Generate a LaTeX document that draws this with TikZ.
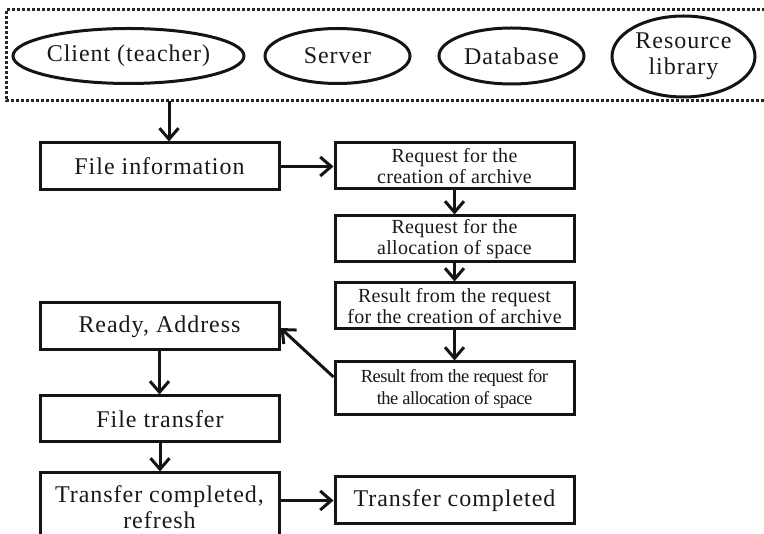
\documentclass[tikz,border=0pt]{standalone}
\usepackage{fontspec}
\setmainfont{Liberation Serif}
\newfontfamily\bigfam[LetterSpace=4]{Liberation Serif}
\newfontfamily\midfam[LetterSpace=1.5]{Liberation Serif}
\newfontfamily\tightfam[LetterSpace=-3]{Liberation Serif}
\usetikzlibrary{shapes.geometric,arrows.meta}

\tikzset{
  stroke/.style={line width=3pt, draw=black!92},
  bigtext/.style={font=\bigfam\fontsize{24}{26}\selectfont, text=black!90},
  midtext/.style={font=\midfam\fontsize{20}{21}\selectfont, text=black!90},
  tighttext/.style={font=\tightfam\fontsize{18.5}{22}\selectfont, text=black!90},
  actor/.style={stroke, ellipse, inner sep=0pt, align=center, bigtext},
  stepbox/.style={stroke, rectangle, inner sep=0pt, minimum width=239pt, align=center},
  flow/.style={stroke, -{Straight Barb[length=11pt,width=19pt,line width=3pt]}}
}

\begin{document}
\begin{tikzpicture}[x=1pt,y=-1pt]
  \useasboundingbox (0,0) rectangle (764,534);
  \clip (0,0) rectangle (764,534);

  % participants, inside a dotted frame open to the right
  \draw[line width=3pt, dash pattern=on 2.6pt off 2.4pt, draw=black!85]
    (770,10) -- (6,10) -- (6,101) -- (770,101);
  \coordinate (frameb) at (169,101);

  \node[actor, minimum width=227pt, minimum height=55pt] (client)   at (128.5,56)  {Client (teacher)};
  \node[actor, minimum width=145pt, minimum height=55pt] (server)   at (337.5,56)  {Server};
  \node[actor, minimum width=145pt, minimum height=56pt] (database) at (511.5,56)  {Database};
  \node[actor, minimum width=143pt, minimum height=81pt] (library)  at (683.5,56.5){Resource\\library};

  % left column
  \node[stepbox, bigtext, minimum height=47pt] (fileinfo) at (159.5,166.5) {File information};
  \node[stepbox, bigtext, minimum height=47pt] (ready)    at (159.5,326.5) {Ready, Address};
  \node[stepbox, bigtext, minimum height=46pt] (ftrans)   at (160,419)     {File transfer};
  \node[stepbox, bigtext, minimum height=68pt] (tcr)      at (159.5,507)   {Transfer completed,\\refresh};

  % right column
  \node[stepbox, midtext, minimum height=46pt] (req1) at (454.5,166) {Request for the\\creation of archive};
  \node[stepbox, midtext, minimum height=46pt] (req2) at (454.5,239) {Request for the\\allocation of space};
  \node[stepbox, midtext, minimum height=46pt] (res1) at (454.5,306) {Result from the request\\for the creation of archive};
  \node[stepbox, tighttext, minimum height=53pt] (res2) at (454.5,388.5) {Result from the request for\\the allocation of space};
  \node[stepbox, bigtext, minimum height=47pt] (tc)   at (454.5,500.5) {Transfer completed};

  % connectors
  \draw[flow] (frameb) -- (frameb |- fileinfo.north);
  \draw[flow] (fileinfo.east) -- (fileinfo.east -| req1.west);
  \draw[flow] (req1.south) -- (req2.north);
  \draw[flow] (req2.south) -- (res1.north);
  \draw[flow] (res1.south) -- (res2.north);
  \draw[flow] ([yshift=11.5pt]res2.west) -- ([yshift=-1.5pt]ready.east);
  \draw[flow] (ready.south) -- (ready.south |- ftrans.north);
  \draw[flow] (ftrans.south) -- (ftrans.south |- tcr.north);
  \draw[flow] (tc.west -| tcr.east) -- (tc.west);
\end{tikzpicture}
\end{document}
